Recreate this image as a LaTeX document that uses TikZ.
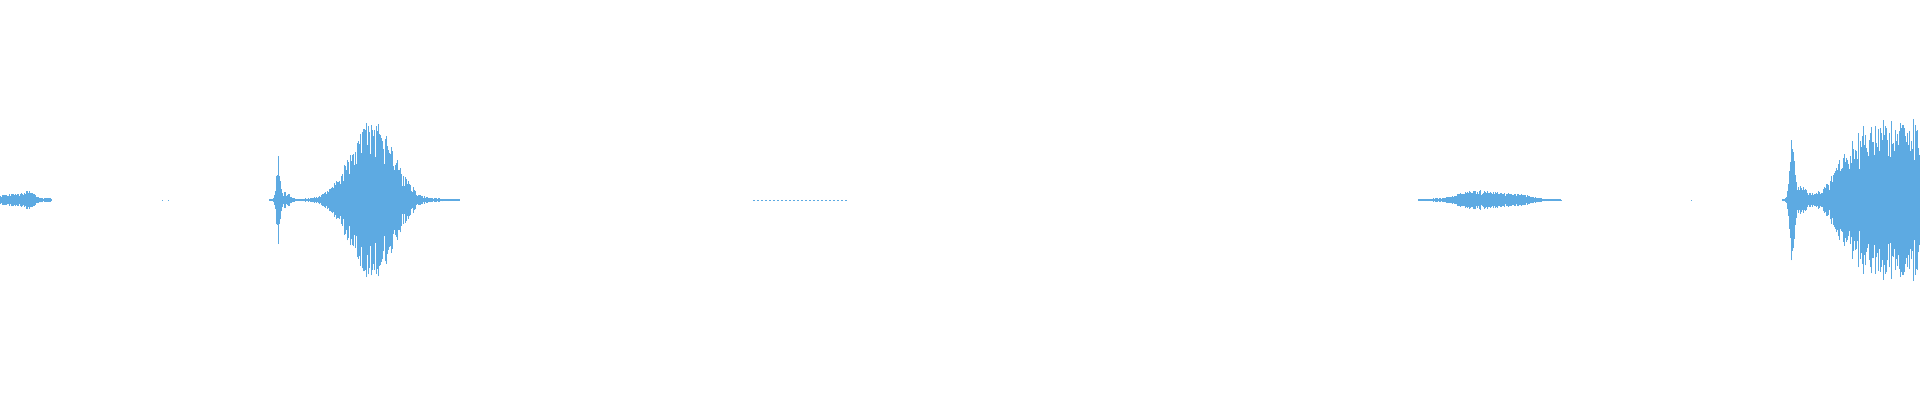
\documentclass[tikz,border=0pt]{standalone}
\definecolor{wave}{RGB}{93,170,226}
\tikzset{wv/.style={draw=wave,line width=0.7pt}}
\begin{document}
\begin{tikzpicture}[x=1pt,y=1pt]
\useasboundingbox (0,0) rectangle (1920,400);
\pgfmathsetseed{7}
% segment 1
\foreach \i in {0,0.5,...,51}{
  \pgfmathsetmacro\a{(2+7*exp(-((\i-28)/8)^2)+5*exp(-((\i-10)/10)^2))*(0.5+0.5*rnd)}
  \draw[wv] (\i,200-\a) -- (\i,200+\a);}
\foreach \i in {162,168}{\draw[wv] (\i,199.5) -- (\i,200.5);}
% segment 3
\foreach \i in {269,269.5,...,459}{
  \pgfmathsetmacro\a{(1+46*exp(-((\i-278)/2.5)^2)+8*exp(-((\i-285)/6)^2)+80*exp(-((\i-372)/30)^2))*(0.35+0.65*rnd)}
  \draw[wv] (\i,200-\a) -- (\i,200+\a);}
% segment 4 dotted
\foreach \i in {753,757,...,845}{\draw[wv] (\i,199.5) -- (\i+1.5,199.5);}
% segment 5
\foreach \i in {1418,1418.5,...,1561}{
  \pgfmathsetmacro\a{(0.8+9*exp(-((\i-1480)/30)^2)+4*exp(-((\i-1520)/18)^2))*(0.5+0.5*rnd)}
  \draw[wv] (\i,200-\a) -- (\i,200+\a);}
\draw[wv] (1691,199.5) -- (1691,200.5);
% segment 7
\foreach \i in {1782,1782.5,...,1920}{
  \pgfmathsetmacro\a{(1+70*exp(-((\i-1792)/3)^2)+12*exp(-((\i-1800)/8)^2)+80/(1+exp(-(\i-1840)/10)))*(0.35+0.65*rnd)}
  \draw[wv] (\i,200-\a) -- (\i,200+\a);}
\end{tikzpicture}
\end{document}
